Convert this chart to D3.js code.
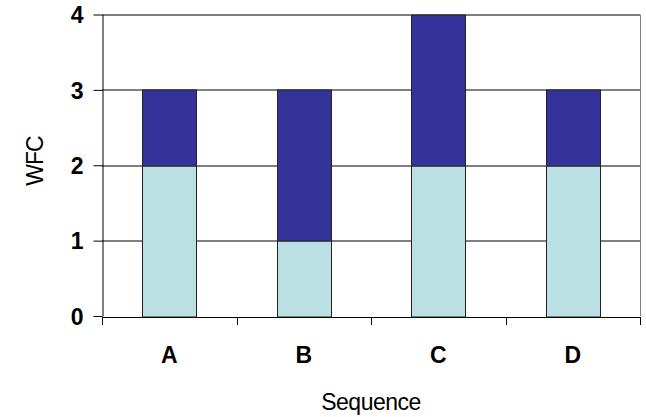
<!DOCTYPE html>
<html>
<head>
<meta charset="utf-8">
<script src="https://cdn.jsdelivr.net/npm/d3@7"></script>
<style>
  body { margin: 0; background: #fff; }
  svg { display: block; font-family: "Liberation Sans", Arial, sans-serif; }
</style>
</head>
<body>
<div id="chart"></div>
<script>
// data
const sequences = ['A', 'B', 'C', 'D'];
const lowerValues = [2, 1, 2, 2];
const upperValues = [1, 2, 2, 1];
const yTicks = [0, 1, 2, 3, 4];

const outerW = 646,
	outerH = 417;

const margin = { left: 102, right: 6, top: 14.5, bottom: 101 };
const w = outerW - margin.left - margin.right,
	h = outerH - margin.top - margin.bottom;

const svg = d3.select('#chart').append('svg')
	.attr('width', outerW)
	.attr('height', outerH);

const g = svg.append('g')
	.attr('transform', `translate(${margin.left}, ${margin.top})`);

const x = d3.scaleBand().domain(sequences).range([0, w]).paddingInner(0.6).paddingOuter(0.3);
const xOuter = d3.scaleBand().domain(sequences).range([0, w]);
const y = d3.scaleLinear().domain([0, 4]).range([h, 0]);

// grid lines
g.append('g')
	.selectAll('line')
	.data(yTicks.filter(d => d > 0))
	.enter().append('line')
	.attr('x1', 0)
	.attr('x2', w)
	.attr('y1', d => Math.round(y(d)) + 0.5)
	.attr('y2', d => Math.round(y(d)) + 0.5)
	.attr('stroke', '#000');

// right border of plot area
g.append('line')
	.attr('x1', w + 0.5).attr('x2', w + 0.5)
	.attr('y1', 0).attr('y2', h)
	.attr('stroke', '#808080');

// stacked bars
const stacked = sequences.map((s, i) => ({ key: s, low: lowerValues[i], high: upperValues[i] }));

const bars = g.append('g').selectAll('g')
	.data(stacked)
	.enter().append('g');

bars.append('rect')
	.attr('x', d => Math.round(x(d.key)) + 0.5)
	.attr('width', Math.round(x.bandwidth()))
	.attr('y', d => Math.round(y(d.low)) + 0.5)
	.attr('height', d => Math.round(y(0)) - Math.round(y(d.low)))
	.attr('fill', '#bbe0e3')
	.attr('stroke', '#222');

bars.append('rect')
	.attr('x', d => Math.round(x(d.key)) + 0.5)
	.attr('width', Math.round(x.bandwidth()))
	.attr('y', d => Math.round(y(d.low + d.high)) + 0.5)
	.attr('height', d => Math.round(y(d.low)) - Math.round(y(d.low + d.high)))
	.attr('fill', '#333399')
	.attr('stroke', '#222');

// y axis
const yAxis = g.append('g')
	.attr('class', 'y axis')
	.attr('transform', 'translate(0.5, 0)')
	.call(d3.axisLeft(y)
		.tickValues(yTicks)
		.tickFormat(d3.format('d'))
		.tickSize(9)
		.tickSizeOuter(0)
		.tickPadding(10)
	);

yAxis.selectAll('text')
	.attr('font-size', 23)
	.attr('font-weight', 'bold')
	.attr('fill', '#000')
	.attr('dy', '0.36em');

// x axis
const xAxis = g.append('g')
	.attr('class', 'x axis')
	.attr('transform', `translate(0, ${Math.round(h) + 0.5})`)
	.call(d3.axisBottom(xOuter)
		.tickSize(0)
		.tickPadding(30)
	);

xAxis.selectAll('text')
	.attr('font-size', 23)
	.attr('font-weight', 'bold')
	.attr('fill', '#000');

// category boundary ticks
xAxis.append('g')
	.selectAll('line')
	.data(d3.range(sequences.length + 1))
	.enter().append('line')
	.attr('x1', d => Math.round(d * xOuter.step()) + 0.5)
	.attr('x2', d => Math.round(d * xOuter.step()) + 0.5)
	.attr('y1', 0)
	.attr('y2', 8)
	.attr('stroke', '#000');

svg.selectAll('.domain').attr('stroke', '#000');
svg.selectAll('.tick line').attr('stroke', '#000');

// axis titles
svg.append('text')
	.attr('x', margin.left + w / 2)
	.attr('y', 410)
	.attr('text-anchor', 'middle')
	.attr('font-size', 23)
	.attr('letter-spacing', -0.5)
	.text('Sequence');

svg.append('text')
	.attr('transform', `translate(43, 161) rotate(-90)`)
	.attr('text-anchor', 'middle')
	.attr('font-size', 23)
	.attr('letter-spacing', -1)
	.text('WFC');
</script>
</body>
</html>
